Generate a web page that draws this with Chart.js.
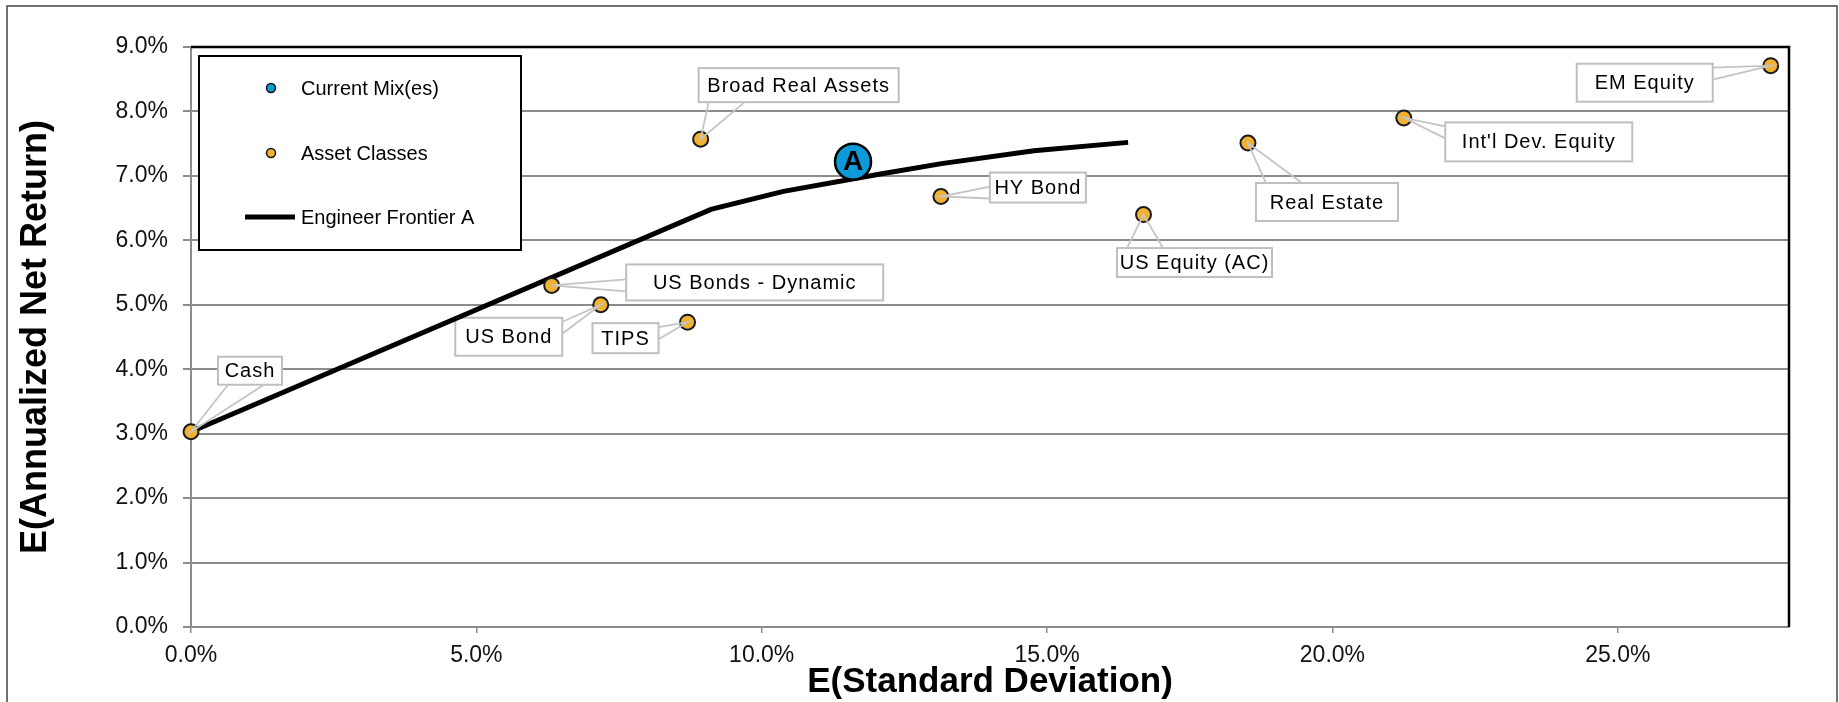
<!DOCTYPE html>
<html>
<head>
<meta charset="utf-8">
<script src="https://cdn.jsdelivr.net/npm/chart.js@4.4.1/dist/chart.umd.min.js"></script>
<style>
  html, body { margin: 0; padding: 0; background: #fff; }
  #wrap { width: 1839px; height: 702px; position: relative; }
</style>
</head>
<body>
<div id="wrap"><canvas id="frontierChart"></canvas></div>
<script>
// asset classes (risk / return in %)
const assetNames = ["Cash", "US Bonds - Dynamic", "US Bond", "TIPS", "Broad Real Assets",
  "HY Bond", "US Equity (AC)", "Real Estate", "Int'l Dev. Equity", "EM Equity"];
const assetRisk = [0.0, 6.32, 7.18, 8.70, 8.93, 13.14, 16.69, 18.52, 21.25, 27.68];
const assetReturn = [3.03, 5.30, 5.00, 4.73, 7.57, 6.68, 6.40, 7.51, 7.90, 8.71];

// current mix
const mixNames = ["A"];
const mixRisk = [11.60];
const mixReturn = [7.22];

// engineer frontier A
const frontierRisk = [0.0, 9.11, 10.38, 12.08, 13.15, 14.77, 16.42];
const frontierReturn = [3.03, 6.48, 6.76, 7.03, 7.19, 7.39, 7.52];

const xTicks = [0, 5, 10, 15, 20, 25];
const yTicks = [0, 1, 2, 3, 4, 5, 6, 7, 8, 9];

// callout boxes: box centre offset from its point + box size, in px
const calloutLayout = [
  { dx: 59, dy: -61, w: 64, h: 28 },
  { dx: 203, dy: -3, w: 257, h: 36 },
  { dx: -92, dy: 32, w: 107, h: 38 },
  { dx: -62, dy: 16, w: 66, h: 30 },
  { dx: 98, dy: -54, w: 200, h: 34 },
  { dx: 97, dy: -9, w: 96, h: 30 },
  { dx: 51, dy: 48, w: 155, h: 29 },
  { dx: 79, dy: 59, w: 142, h: 38 },
  { dx: 135, dy: 24, w: 187, h: 39 },
  { dx: -126, dy: 17, w: 136, h: 38 }
];

const FONT = "'Liberation Sans', Arial, sans-serif";
const GRID = '#8c8c8c';

function pts(xs, ys) {
  return xs.map((x, i) => ({ x: x, y: ys[i] }));
}

// boxes, legend and plot frame go under the marks
const underPlugin = {
  id: 'under',
  beforeDatasetsDraw(chart) {
    const ctx = chart.ctx;
    const a = chart.chartArea;
    ctx.save();
    // black frame on top / right of plot area
    ctx.strokeStyle = '#000';
    ctx.lineWidth = 2.5;
    ctx.beginPath();
    ctx.moveTo(a.left, a.top);
    ctx.lineTo(a.right, a.top);
    ctx.lineTo(a.right, a.bottom);
    ctx.stroke();

    // legend
    const lx = a.left + 8, ly = a.top + 9, lw = 322, lh = 194;
    ctx.fillStyle = '#fff';
    ctx.fillRect(lx, ly, lw, lh);
    ctx.lineWidth = 2;
    ctx.strokeStyle = '#000';
    ctx.strokeRect(lx, ly, lw, lh);
    const ds = chart.data.datasets;
    const rows = [ly + 32, ly + 97, ly + 161];
    ctx.font = '20px ' + FONT;
    ctx.textBaseline = 'middle';
    ctx.textAlign = 'left';
    ds.forEach((d, i) => {
      const y = rows[i];
      if (d.showLine) {
        ctx.strokeStyle = d.borderColor;
        ctx.lineWidth = 5;
        ctx.beginPath();
        ctx.moveTo(lx + 46, y);
        ctx.lineTo(lx + 96, y);
        ctx.stroke();
      } else {
        ctx.beginPath();
        ctx.arc(lx + 72, y, 4.5, 0, Math.PI * 2);
        ctx.fillStyle = d.backgroundColor;
        ctx.fill();
        ctx.lineWidth = 1.5;
        ctx.strokeStyle = '#111';
        ctx.stroke();
      }
      ctx.fillStyle = '#000';
      ctx.fillText(d.label, lx + 102, y + 1);
    });

    // callout boxes
    const meta = chart.getDatasetMeta(1);
    ctx.font = '20px ' + FONT;
    ctx.letterSpacing = '1px';
    ctx.textAlign = 'center';
    meta.data.forEach((p, i) => {
      const L = calloutLayout[i];
      const left = p.x + L.dx - L.w / 2, top = p.y + L.dy - L.h / 2;
      ctx.fillStyle = '#fff';
      ctx.fillRect(left, top, L.w, L.h);
      ctx.strokeStyle = '#bfbfbf';
      ctx.lineWidth = 2;
      ctx.strokeRect(left, top, L.w, L.h);
      ctx.fillStyle = '#000';
      ctx.fillText(assetNames[i], p.x + L.dx, p.y + L.dy + 1);
    });
    ctx.letterSpacing = '0px';
    ctx.restore();
  },
  afterDatasetsDraw(chart) {
    const ctx = chart.ctx;
    ctx.save();
    // callout pointers
    const meta = chart.getDatasetMeta(1);
    ctx.strokeStyle = '#c4c4c4';
    ctx.lineWidth = 1.8;
    meta.data.forEach((p, i) => {
      const L = calloutLayout[i];
      const cx = p.x + L.dx, cy = p.y + L.dy;
      const left = cx - L.w / 2, right = cx + L.w / 2, top = cy - L.h / 2, bottom = cy + L.h / 2;
      const nx = (p.x - cx) / (L.w / 2), ny = (p.y - cy) / (L.h / 2);
      let b1, b2;
      if (Math.abs(nx) > Math.abs(ny)) {
        const sx = nx < 0 ? left : right;
        const s = Math.min(Math.max(p.y - 6, top + 4), bottom - 16);
        b1 = [sx, s]; b2 = [sx, s + 12];
      } else {
        const sy = ny < 0 ? top : bottom;
        const s = Math.min(Math.max(p.x - 18, left + 10), right - 46);
        b1 = [s, sy]; b2 = [s + 36, sy];
      }
      ctx.beginPath();
      ctx.moveTo(b1[0], b1[1]);
      ctx.lineTo(p.x, p.y);
      ctx.lineTo(b2[0], b2[1]);
      ctx.stroke();
    });
    // current mix letters
    const mix = chart.getDatasetMeta(0);
    ctx.font = 'bold 28px ' + FONT;
    ctx.fillStyle = '#000';
    ctx.textAlign = 'center';
    ctx.textBaseline = 'middle';
    mix.data.forEach((p, i) => ctx.fillText(mixNames[i], p.x, p.y + 1));
    ctx.restore();
  },
  afterDraw(chart) {
    const ctx = chart.ctx;
    ctx.save();
    ctx.strokeStyle = '#444';
    ctx.lineWidth = 1.5;
    ctx.beginPath();
    ctx.moveTo(7, 702);
    ctx.lineTo(7, 6);
    ctx.lineTo(1837, 6);
    ctx.lineTo(1837, 702);
    ctx.stroke();
    ctx.restore();
  }
};

new Chart(document.getElementById('frontierChart'), {
  type: 'scatter',
  data: {
    datasets: [
      {
        label: 'Current Mix(es)',
        data: pts(mixRisk, mixReturn),
        backgroundColor: '#0d9ad8',
        borderColor: '#000',
        borderWidth: 2.5,
        pointRadius: 18,
        clip: false,
        order: 1
      },
      {
        label: 'Asset Classes',
        data: pts(assetRisk, assetReturn),
        backgroundColor: '#f1b133',
        borderColor: '#1a1a1a',
        borderWidth: 2,
        pointRadius: 7.5,
        clip: false,
        order: 2
      },
      {
        label: 'Engineer Frontier A',
        data: pts(frontierRisk, frontierReturn),
        showLine: true,
        borderColor: '#000',
        borderWidth: 5,
        pointRadius: 0,
        fill: false,
        clip: false,
        order: 3
      }
    ]
  },
  options: {
    responsive: true,
    maintainAspectRatio: false,
    animation: false,
    layout: { padding: { top: 47, right: 50, left: 0, bottom: 0 } },
    plugins: { legend: { display: false }, tooltip: { enabled: false } },
    scales: {
      x: {
        type: 'linear',
        min: 0,
        max: 28,
        afterBuildTicks: s => { s.ticks = xTicks.map(v => ({ value: v })); },
        afterFit: s => { s.height = 75; },
        ticks: {
          callback: v => v.toFixed(1) + '%',
          font: { family: FONT, size: 23 },
          color: '#111',
          padding: 9,
          maxRotation: 0
        },
        grid: { drawOnChartArea: false, drawTicks: true, tickLength: 6, color: GRID, lineWidth: 1.5 },
        border: { color: GRID, width: 2 },
        title: {
          display: true,
          text: 'E(Standard Deviation)',
          color: '#000',
          font: { family: FONT, size: 35, weight: 'bold', lineHeight: 1 },
          padding: { top: 0, bottom: 2 }
        }
      },
      y: {
        type: 'linear',
        min: 0,
        max: 9,
        afterBuildTicks: s => { s.ticks = yTicks.map(v => ({ value: v })); },
        afterFit: s => { s.width = 191; },
        ticks: {
          callback: v => v.toFixed(1) + '%',
          font: { family: FONT, size: 23 },
          color: '#111',
          padding: 15
        },
        grid: { drawOnChartArea: true, drawTicks: true, tickLength: 8, color: GRID, lineWidth: 2 },
        border: { color: GRID, width: 2 },
        title: {
          display: true,
          text: 'E(Annualized Net Return)',
          color: '#000',
          font: { family: FONT, size: 36, weight: 'bold', lineHeight: 1 },
          padding: { top: 18, bottom: 0 }
        }
      }
    }
  },
  plugins: [underPlugin]
});
</script>
</body>
</html>
